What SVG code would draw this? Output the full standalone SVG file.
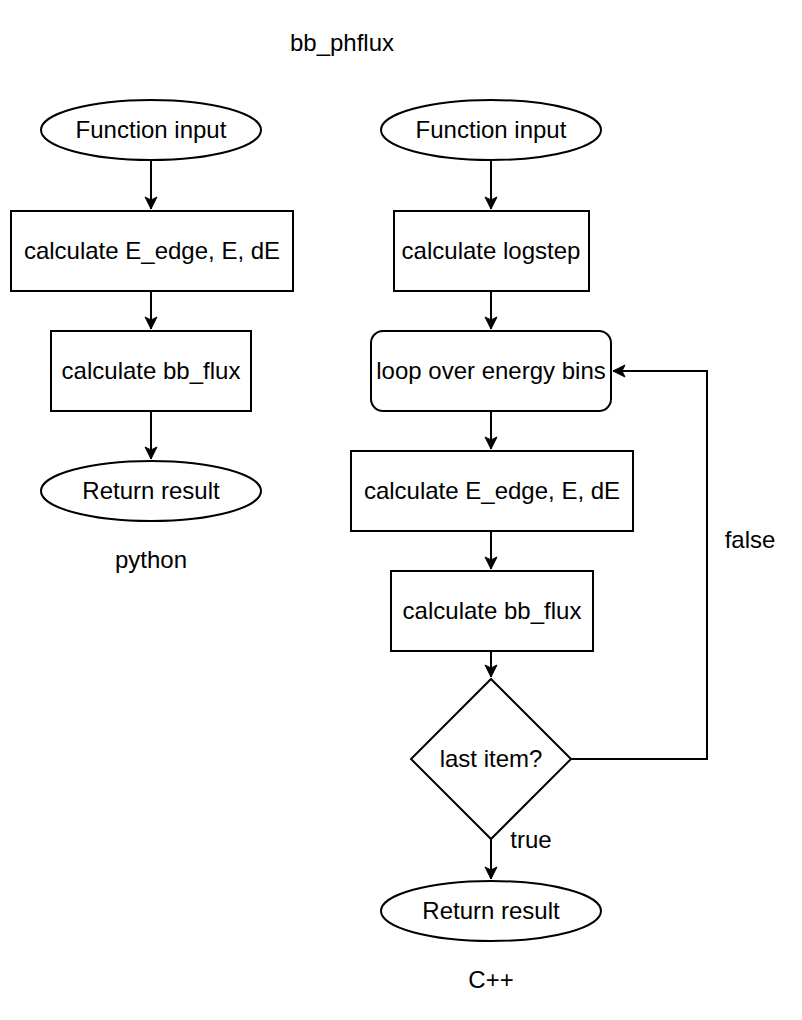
<svg xmlns="http://www.w3.org/2000/svg" width="802" height="1020" viewBox="0 0 802 1020">
<defs>
<marker id="arr" markerUnits="userSpaceOnUse" markerWidth="14" markerHeight="14" viewBox="0 0 14 14" refX="13" refY="7" orient="auto">
<path d="M1,1 L13,7 L1,13 L4,7 z" fill="#000" stroke="#000" stroke-width="1"/>
</marker>
<style>
.s{fill:#fff;stroke:#000;stroke-width:2}
.t{font-family:"Liberation Sans",Arial,sans-serif;font-size:24px;fill:#000;text-anchor:middle}
.c{fill:none;stroke:#000;stroke-width:2;marker-end:url(#arr)}
</style>
</defs>
<rect width="802" height="1020" fill="#fff"/>
<text class="t" x="342" y="51" id="title">bb_phflux</text>
<g id="connectors">
<path class="c" d="M151,160 L151,209"/>
<path class="c" d="M151,291 L151,329"/>
<path class="c" d="M151,411 L151,459"/>
<path class="c" d="M491,160 L491,209"/>
<path class="c" d="M491,291 L491,329"/>
<path class="c" d="M491,411 L491,449"/>
<path class="c" d="M491,531 L491,569"/>
<path class="c" d="M491,651 L491,677"/>
<path class="c" d="M491,839 L491,879"/>
<path class="c" d="M571,759 L707,759 L707,371 L613,371"/>
</g>
<g id="py_input"><ellipse class="s" cx="151" cy="130" rx="110" ry="30"/><text class="t" x="151" y="138">Function input</text></g>
<g id="py_calc_e"><rect class="s" x="11" y="211" width="282" height="80"/><text class="t" x="152" y="259">calculate E_edge, E, dE</text></g>
<g id="py_flux"><rect class="s" x="51" y="331" width="200" height="80"/><text class="t" x="151" y="379">calculate bb_flux</text></g>
<g id="py_return"><ellipse class="s" cx="151" cy="491" rx="110" ry="30"/><text class="t" x="151" y="499">Return result</text></g>
<text class="t" x="151" y="568" id="py_label">python</text>
<g id="c_input"><ellipse class="s" cx="491" cy="130" rx="110" ry="30"/><text class="t" x="491" y="138">Function input</text></g>
<g id="c_logstep"><rect class="s" x="394" y="211" width="195" height="80"/><text class="t" x="491" y="259">calculate logstep</text></g>
<g id="c_loop"><rect class="s" x="371" y="331" width="240" height="80" rx="12" ry="12"/><text class="t" x="491" y="379">loop over energy bins</text></g>
<g id="c_calc_e"><rect class="s" x="351" y="451" width="282" height="80"/><text class="t" x="492" y="499">calculate E_edge, E, dE</text></g>
<g id="c_flux"><rect class="s" x="391" y="571" width="202" height="80"/><text class="t" x="492" y="619">calculate bb_flux</text></g>
<g id="c_last"><path class="s" d="M491,679 L571,759 L491,839 L411,759 z"/><text class="t" x="491" y="767">last item?</text></g>
<g id="c_return"><ellipse class="s" cx="491" cy="911" rx="110" ry="30"/><text class="t" x="491" y="919">Return result</text></g>
<text class="t" x="491" y="988" id="c_label">C++</text>
<text class="t" x="750" y="548" id="false_label">false</text>
<text class="t" x="531" y="848" id="true_label">true</text>
</svg>
